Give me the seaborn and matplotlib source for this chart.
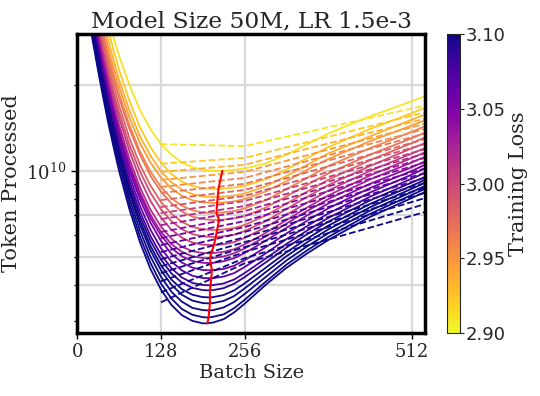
import matplotlib
matplotlib.use("Agg")
import matplotlib.pyplot as plt
import numpy as np
import pandas as pd
import seaborn as sns
from matplotlib.ticker import FixedLocator, NullFormatter
from matplotlib.colors import Normalize
from matplotlib.cm import ScalarMappable

# target training loss of each curve (yellow -> dark blue)
losses = [2.910, 2.922, 2.934, 2.946, 2.958, 2.970, 2.982, 2.994, 3.006, 3.018, 3.030,
          3.042, 3.054, 3.066, 3.078, 3.090, 3.102, 3.114, 3.126, 3.138, 3.150]

# smoothed curves: tokens (billions) needed at each batch size
batch_grid = [16, 20, 24, 32, 40, 48, 56, 64, 80, 96, 112, 128, 144, 160, 176, 192, 208, 224, 240, 256, 288,
              320, 352, 384, 448, 512, 532]
tokens_solid = [
    [69.9, 63, 57, 47.1, 39.5, 33.6, 28.9, 25.2, 19.9, 16.3, 14, 12.4, 11.4, 10.7, 10.3, 10.1, 10, 10, 10.1, 10.2, 10.6, 11.4, 12.4, 13.5, 15.5, 17.5, 18.2],
    [67.3, 60.2, 54, 44.1, 36.5, 30.6, 26.1, 22.5, 17.5, 14.2, 12.1, 10.7, 9.75, 9.18, 8.86, 8.7, 8.65, 8.68, 8.74, 8.87, 9.35, 10.1, 11.1, 12.1, 14, 15.9, 16.6],
    [60.5, 54.5, 49.2, 40.3, 33.4, 28.2, 24.1, 20.8, 16.2, 13.2, 11.3, 9.97, 9.13, 8.6, 8.3, 8.15, 8.11, 8.14, 8.2, 8.34, 8.83, 9.6, 10.5, 11.5, 13.2, 15.1, 15.7],
    [56, 50.6, 45.8, 37.6, 31.3, 26.5, 22.7, 19.7, 15.3, 12.5, 10.7, 9.48, 8.68, 8.19, 7.9, 7.77, 7.73, 7.76, 7.83, 7.98, 8.47, 9.21, 10.1, 11, 12.7, 14.4, 15],
    [54.3, 49, 44.3, 36.2, 30, 25.2, 21.5, 18.6, 14.4, 11.7, 9.96, 8.79, 8.03, 7.56, 7.29, 7.16, 7.13, 7.17, 7.24, 7.4, 7.89, 8.63, 9.46, 10.4, 12, 13.7, 14.3],
    [51, 46.2, 41.9, 34.5, 28.7, 24.2, 20.7, 17.9, 14, 11.4, 9.62, 8.47, 7.71, 7.22, 6.93, 6.79, 6.74, 6.76, 6.83, 6.96, 7.44, 8.15, 8.94, 9.8, 11.4, 13, 13.6],
    [49.5, 44.7, 40.4, 33, 27.4, 23, 19.6, 16.9, 13, 10.5, 8.89, 7.8, 7.09, 6.64, 6.38, 6.26, 6.22, 6.25, 6.32, 6.48, 6.98, 7.68, 8.47, 9.31, 10.9, 12.5, 13.1],
    [47.3, 42.7, 38.6, 31.5, 26.1, 21.8, 18.6, 16, 12.3, 9.95, 8.39, 7.36, 6.68, 6.26, 6.02, 5.91, 5.88, 5.92, 5.99, 6.17, 6.67, 7.36, 8.12, 8.92, 10.4, 12, 12.5],
    [46.9, 42.2, 38, 30.8, 25.3, 21.1, 17.8, 15.3, 11.7, 9.37, 7.86, 6.88, 6.24, 5.85, 5.63, 5.53, 5.51, 5.55, 5.64, 5.84, 6.35, 7.03, 7.76, 8.54, 10, 11.5, 12],
    [46.5, 41.7, 37.4, 30, 24.5, 20.3, 17, 14.5, 11, 8.77, 7.33, 6.4, 5.8, 5.44, 5.25, 5.17, 5.17, 5.22, 5.33, 5.54, 6.07, 6.74, 7.46, 8.21, 9.64, 11.1, 11.6],
    [45.2, 40.6, 36.4, 29.2, 23.8, 19.7, 16.5, 14, 10.6, 8.43, 7.03, 6.13, 5.56, 5.22, 5.04, 4.97, 4.97, 5.03, 5.16, 5.36, 5.9, 6.55, 7.25, 7.97, 9.34, 10.7, 11.2],
    [44, 39.5, 35.4, 28.4, 23.2, 19.2, 16.1, 13.7, 10.3, 8.22, 6.85, 5.96, 5.39, 5.04, 4.85, 4.78, 4.78, 4.84, 4.96, 5.17, 5.7, 6.33, 7, 7.69, 9.02, 10.3, 10.8],
    [42.8, 38.4, 34.5, 27.7, 22.6, 18.7, 15.7, 13.3, 10, 7.95, 6.6, 5.71, 5.14, 4.79, 4.6, 4.51, 4.51, 4.55, 4.67, 4.88, 5.41, 6.05, 6.71, 7.4, 8.72, 10, 10.5],
    [41.9, 37.5, 33.6, 26.9, 21.9, 18, 15.1, 12.8, 9.58, 7.55, 6.24, 5.38, 4.83, 4.5, 4.31, 4.23, 4.23, 4.28, 4.4, 4.62, 5.15, 5.78, 6.43, 7.1, 8.41, 9.71, 10.2],
    [40.9, 36.6, 32.7, 26.1, 21.2, 17.4, 14.5, 12.3, 9.18, 7.21, 5.93, 5.11, 4.58, 4.25, 4.07, 4, 4, 4.05, 4.18, 4.4, 4.94, 5.56, 6.2, 6.85, 8.13, 9.4, 9.84],
    [39.8, 35.6, 31.8, 25.4, 20.6, 16.9, 14.1, 11.9, 8.87, 6.95, 5.71, 4.91, 4.39, 4.08, 3.91, 3.84, 3.84, 3.9, 4.04, 4.26, 4.79, 5.4, 6.02, 6.65, 7.89, 9.11, 9.53],
    [39.1, 35, 31.3, 25, 20.2, 16.5, 13.8, 11.6, 8.59, 6.7, 5.48, 4.69, 4.18, 3.87, 3.7, 3.63, 3.63, 3.69, 3.83, 4.05, 4.59, 5.2, 5.81, 6.44, 7.67, 8.88, 9.3],
    [39.5, 34.8, 30.9, 24.6, 19.8, 16.2, 13.5, 11.3, 8.36, 6.49, 5.29, 4.51, 4.01, 3.7, 3.53, 3.46, 3.46, 3.52, 3.66, 3.89, 4.43, 5.04, 5.64, 6.25, 7.47, 8.67, 9.08],
    [38.4, 33.9, 30, 23.8, 19.2, 15.7, 13, 10.9, 8, 6.19, 5.03, 4.28, 3.79, 3.5, 3.33, 3.27, 3.27, 3.34, 3.49, 3.72, 4.26, 4.87, 5.46, 6.06, 7.27, 8.45, 8.86],
    [37.3, 32.9, 29.1, 23, 18.5, 15.1, 12.5, 10.5, 7.66, 5.9, 4.78, 4.05, 3.59, 3.3, 3.15, 3.09, 3.1, 3.16, 3.32, 3.55, 4.1, 4.71, 5.29, 5.88, 7.08, 8.25, 8.65],
    [36.3, 31.9, 28.2, 22.3, 17.9, 14.5, 12, 10, 7.33, 5.64, 4.55, 3.86, 3.41, 3.14, 3, 2.94, 2.96, 3.04, 3.21, 3.44, 4, 4.59, 5.16, 5.74, 6.91, 8.05, 8.44],
]

# minimum of each curve (red line)
min_batch = [222, 216, 215, 214, 213, 217, 214, 212, 209, 205, 203, 204, 206, 205, 204, 203, 203, 203, 202, 201, 199]
min_tokens = [10.0, 8.65, 8.11, 7.73, 7.13, 6.74, 6.22, 5.88, 5.51, 5.16, 4.96, 4.77, 4.50, 4.22, 3.99, 3.83, 3.62,
              3.45, 3.26, 3.08, 2.94]

# measured runs (dashed)
dashed_batch = [128, 256, 532]
tokens_dashed = [
    [12.4, 12.2, 16.9], [10.6, 11.1, 16.0], [9.92, 10.5, 15.2], [9.30, 9.92, 14.6], [8.79, 9.45, 14.0],
    [8.38, 9.01, 13.5], [7.91, 8.58, 12.9], [7.48, 8.18, 12.4], [7.13, 7.85, 11.9], [6.79, 7.54, 11.5],
    [6.47, 7.24, 11.1], [6.12, 6.96, 10.7], [5.83, 6.68, 10.2], [5.51, 6.37, 9.84], [5.21, 6.12, 9.45],
    [4.92, 5.87, 9.08], [4.65, 5.64, 8.72], [4.40, 5.42, 8.38], [4.12, 5.21, 8.04], [3.77, 4.96, 7.66],
    [3.48, 4.76, 7.19],
]

xticks = [0, 128, 256, 512]
grid_y = [4e9, 5e9, 7e9, 1e10, 2e10]

solid_rows = []
for loss, row, bm, tm in zip(losses, tokens_solid, min_batch, min_tokens):
    for b, t in zip(batch_grid + [bm], row + [tm]):
        solid_rows.append({'batch': b, 'tokens': t * 1e9, 'loss': loss})
solid = pd.DataFrame(solid_rows)

dashed_rows = []
for loss, row in zip(losses, tokens_dashed):
    for b, t in zip(dashed_batch, row):
        dashed_rows.append({'batch': b, 'tokens': t * 1e9, 'loss': loss})
dashed = pd.DataFrame(dashed_rows)

sns.set_style('white')
plt.rcParams['font.family'] = 'DejaVu Serif'
plt.rcParams['mathtext.fontset'] = 'dejavuserif'

fig = plt.figure(figsize=(5.4, 3.96), dpi=100)
ax = fig.add_axes([0.143, 0.159, 0.644, 0.755])

for g in grid_y:
    ax.axhline(g, color='#d9d9d9', lw=1.6, zorder=0)
for x in xticks[1:]:
    ax.axvline(x, color='#d9d9d9', lw=1.6, zorder=0)

sns.lineplot(data=solid, x='batch', y='tokens', hue='loss', palette='plasma_r',
             hue_norm=(2.9, 3.1), legend=False, lw=1.3, estimator=None, ax=ax)
sns.lineplot(data=dashed, x='batch', y='tokens', hue='loss', palette='plasma_r',
             hue_norm=(2.9, 3.1), legend=False, lw=1.3, linestyle='--', estimator=None, ax=ax)
ax.plot(min_batch, [t * 1e9 for t in min_tokens], color='red', lw=1.5)

ax.set_yscale('log')
ax.set_xlim(0, 532)
ax.set_ylim(2.72e9, 3.0e10)
ax.set_xticks(xticks)
ax.set_xticklabels([str(v) for v in xticks], fontsize=13)
ax.yaxis.set_major_locator(FixedLocator([1e10]))
ax.yaxis.set_minor_locator(FixedLocator([3e9, 4e9, 5e9, 6e9, 7e9, 8e9, 9e9, 2e10]))
ax.yaxis.set_minor_formatter(NullFormatter())
ax.tick_params(axis='y', which='major', labelsize=13)
ax.tick_params(which='both', bottom=True, left=True, direction='out', color='black', width=1)
ax.tick_params(which='major', length=4)
ax.tick_params(which='minor', length=2.5)

for s in ax.spines.values():
    s.set_linewidth(2.5)
    s.set_color('black')

ax.set_xlabel('Batch Size', fontsize=14, labelpad=2)
ax.set_ylabel('Token Processed', fontsize=15, labelpad=4)
ax.set_title('Model Size 50M, LR 1.5e-3', fontsize=16.8, pad=5)

cax = fig.add_axes([0.828, 0.159, 0.024, 0.755])
sm = ScalarMappable(norm=Normalize(2.9, 3.1), cmap='plasma_r')
cb = fig.colorbar(sm, cax=cax)
cb.set_ticks([2.90, 2.95, 3.00, 3.05, 3.10])
cb.ax.set_yticklabels(['2.90', '2.95', '3.00', '3.05', '3.10'], fontsize=13, family='DejaVu Sans')
cb.ax.tick_params(right=True, length=3, width=0.8, pad=1)
cb.outline.set_linewidth(0.8)
cb.set_label('Training Loss', fontsize=15, labelpad=2)

fig.savefig('out.png', dpi=100)
